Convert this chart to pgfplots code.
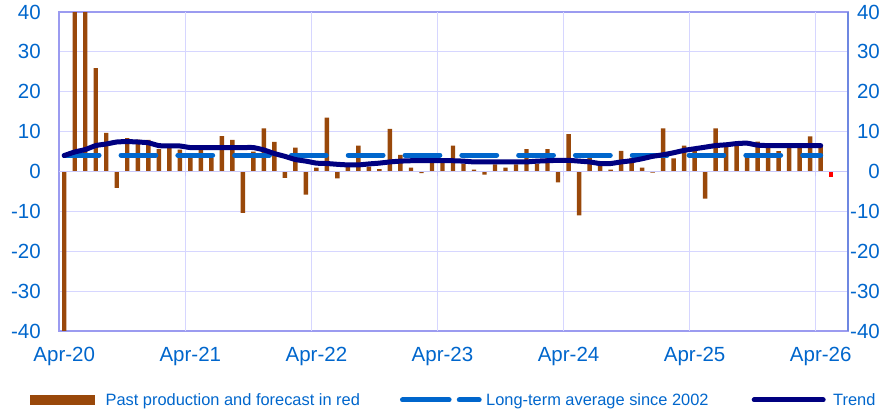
\documentclass[border=0pt]{standalone}
\usepackage{pgfplots}
\pgfplotsset{compat=1.18}
\usepackage{fontspec}
\setmainfont{Liberation Sans}
\definecolor{barbrown}{RGB}{153,72,10}
\definecolor{fcred}{RGB}{255,0,0}
\definecolor{ltablue}{RGB}{0,102,204}
\definecolor{trendnavy}{RGB}{0,0,128}
\definecolor{gridlav}{RGB}{214,214,255}
\definecolor{framelav}{RGB}{155,155,240}
\definecolor{rightblue}{RGB}{110,135,225}
\definecolor{zerolav}{RGB}{200,200,250}
\definecolor{txtblue}{RGB}{0,102,204}
\begin{document}
\begin{tikzpicture}
\useasboundingbox (0,0) rectangle (880pt,412pt);
\begin{axis}[
  at={(59pt,81pt)}, anchor=south west,
  scale only axis, width=789pt, height=319pt,
  xmin=-0.5, xmax=74.6, ymin=-40, ymax=40,
  xtick={0,12,24,36,48,60,72},
  xticklabels={Apr-20,Apr-21,Apr-22,Apr-23,Apr-24,Apr-25,Apr-26},
  extra x ticks={11.5,23.5,35.5,47.5,59.5,71.5},
  extra x tick labels={},
  extra x tick style={grid=major, tick style={draw=none}},
  ytick={-40,-30,-20,-10,0,10,20,30,40},
  yticklabels={-40,-30,-20,-10,0,10,20,30,40},
  ticklabel style={font=\fontsize{20.5}{22}\selectfont, text=txtblue},
  xticklabel style={anchor=north, inner ysep=0pt, yshift=-15.5pt},
  yticklabel style={anchor=east, inner xsep=0pt, xshift=-18pt},
  tick style={draw=none},
  xmajorgrids=false, ymajorgrids=true,
  major grid style={gridlav, line width=1pt},
  axis line style={framelav, line width=2pt},
  legend columns=3,
  legend style={at={(-0.03676,-0.2163)}, anchor=west, draw=none, fill=none,
    inner sep=0pt, outer sep=0pt,
    /tikz/every even column/.style={column sep=0pt},
    /tikz/every odd column/.style={column sep=0pt},
    nodes={inner sep=0pt, text=txtblue, font=\fontsize{16.4}{19}\selectfont}},
]
% monthly production change (%), Apr-20 .. Apr-26
\addplot[ybar, bar width=0.42, bar shift=0pt, fill=barbrown, draw=none,
  legend image code/.code={\fill[barbrown] (0pt,-5.25pt) rectangle (65pt,5.25pt);}]
coordinates {
(0,-45) (1,60) (2,48) (3,25.9) (4,9.7) (5,-4.1) (6,8.4) (7,8.0) (8,7.9) (9,5.6)
(10,6.1) (11,5.5) (12,3.5) (13,6.2) (14,3.4) (15,8.9) (16,7.9) (17,-10.4) (18,5.0) (19,10.8)
(20,7.4) (21,-1.6) (22,6.0) (23,-5.8) (24,1.0) (25,13.5) (26,-1.7) (27,1.3) (28,6.5) (29,1.2)
(30,0.6) (31,10.7) (32,4.2) (33,1.0) (34,-0.4) (35,3.3) (36,2.2) (37,6.5) (38,2.0) (39,0.5)
(40,-0.8) (41,1.8) (42,1.0) (43,1.8) (44,5.6) (45,2.0) (46,5.6) (47,-2.7) (48,9.4) (49,-11.0)
(50,3.4) (51,2.0) (52,0.5) (53,5.2) (54,3.4) (55,1.0) (56,-0.3) (57,10.8) (58,3.3) (59,6.5)
(60,5.2) (61,-6.8) (62,10.8) (63,6.2) (64,6.5) (65,3.8) (66,7.5) (67,7.0) (68,5.1) (69,6.1)
(70,6.1) (71,8.8) (72,6.5)
};
\addlegendentry{\makebox[305pt][l]{\hspace{10.6pt}Past production and forecast in red}}
% forecast
\addplot[ybar, bar width=0.42, bar shift=0pt, fill=fcred, draw=none, forget plot]
coordinates {(73,-1.3)};
% long-term average
\addplot[ltablue, line width=5pt, line cap=round, dash pattern=on 34.8pt off 22pt,
  legend image code/.code={\path (0pt,0pt) -- (76.7pt,0pt); \draw[ltablue, line width=5pt, line cap=round, dash pattern=on 35.6pt off 21.7pt] (11pt,0pt) -- (74.2pt,0pt);}]
coordinates {(0,4.1) (72,4.1)};
\addlegendentry{\makebox[270pt][l]{\hspace{4.5pt}Long-term average since 2002}}
% trend
\addplot[trendnavy, line width=5pt, line cap=round, line join=round, smooth, tension=0.35,
  legend image code/.code={\path (0pt,0pt) -- (69pt,0pt); \draw[trendnavy, line width=5pt, line cap=round] (2.5pt,0pt) -- (66.5pt,0pt);}]
coordinates {
(0,4.0) (1,4.9) (2,5.5) (3,6.5) (4,6.9) (5,7.4) (6,7.5) (7,7.4) (8,7.2) (9,6.5)
(10,6.4) (11,6.4) (12,6.0) (13,6.0) (14,6.0) (15,6.0) (16,6.0) (17,6.0) (18,6.0) (19,5.4)
(20,4.5) (21,3.8) (22,3.0) (23,2.6) (24,2.1) (25,2.0) (26,1.8) (27,1.65) (28,1.65) (29,1.9)
(30,2.1) (31,2.4) (32,2.6) (33,2.7) (34,2.7) (35,2.7) (36,2.7) (37,2.7) (38,2.6) (39,2.4)
(40,2.4) (41,2.4) (42,2.4) (43,2.4) (44,2.4) (45,2.6) (46,2.7) (47,2.8) (48,2.8) (49,2.6)
(50,2.4) (51,2.0) (52,2.0) (53,2.4) (54,2.7) (55,3.2) (56,3.8) (57,4.2) (58,4.7) (59,5.3)
(60,5.7) (61,6.1) (62,6.5) (63,6.7) (64,7.0) (65,7.1) (66,6.6) (67,6.5) (68,6.5) (69,6.5)
(70,6.5) (71,6.5) (72,6.5)
};
\addlegendentry{\hspace{7.5pt}Trend}
\end{axis}
\begin{axis}[
  at={(59pt,81pt)}, anchor=south west,
  scale only axis, width=789pt, height=319pt,
  xmin=-0.5, xmax=74.6, ymin=-40, ymax=40,
  axis y line*=right, axis x line*=middle,
  axis line style={-},
  every inner x axis line/.append style={-},
  every outer y axis line/.append style={-},
  x axis line style={zerolav, line width=1.5pt},
  y axis line style={rightblue, line width=2pt},
  xtick={11.5,23.5,35.5,47.5,59.5,71.5},
  xticklabels={},
  xtick align=outside,
  major tick length=5pt,
  xtick style={zerolav, line width=1pt},
  ytick={-40,-30,-20,-10,0,10,20,30,40},
  yticklabels={-40,-30,-20,-10,0,10,20,30,40},
  ytick style={draw=none},
  yticklabel style={font=\fontsize{20.5}{22}\selectfont, text=txtblue, anchor=east, inner xsep=0pt, xshift=32pt},
]
\addplot[draw=none, forget plot] coordinates {(0,0) (1,0)};
\end{axis}
\end{tikzpicture}
\end{document}
